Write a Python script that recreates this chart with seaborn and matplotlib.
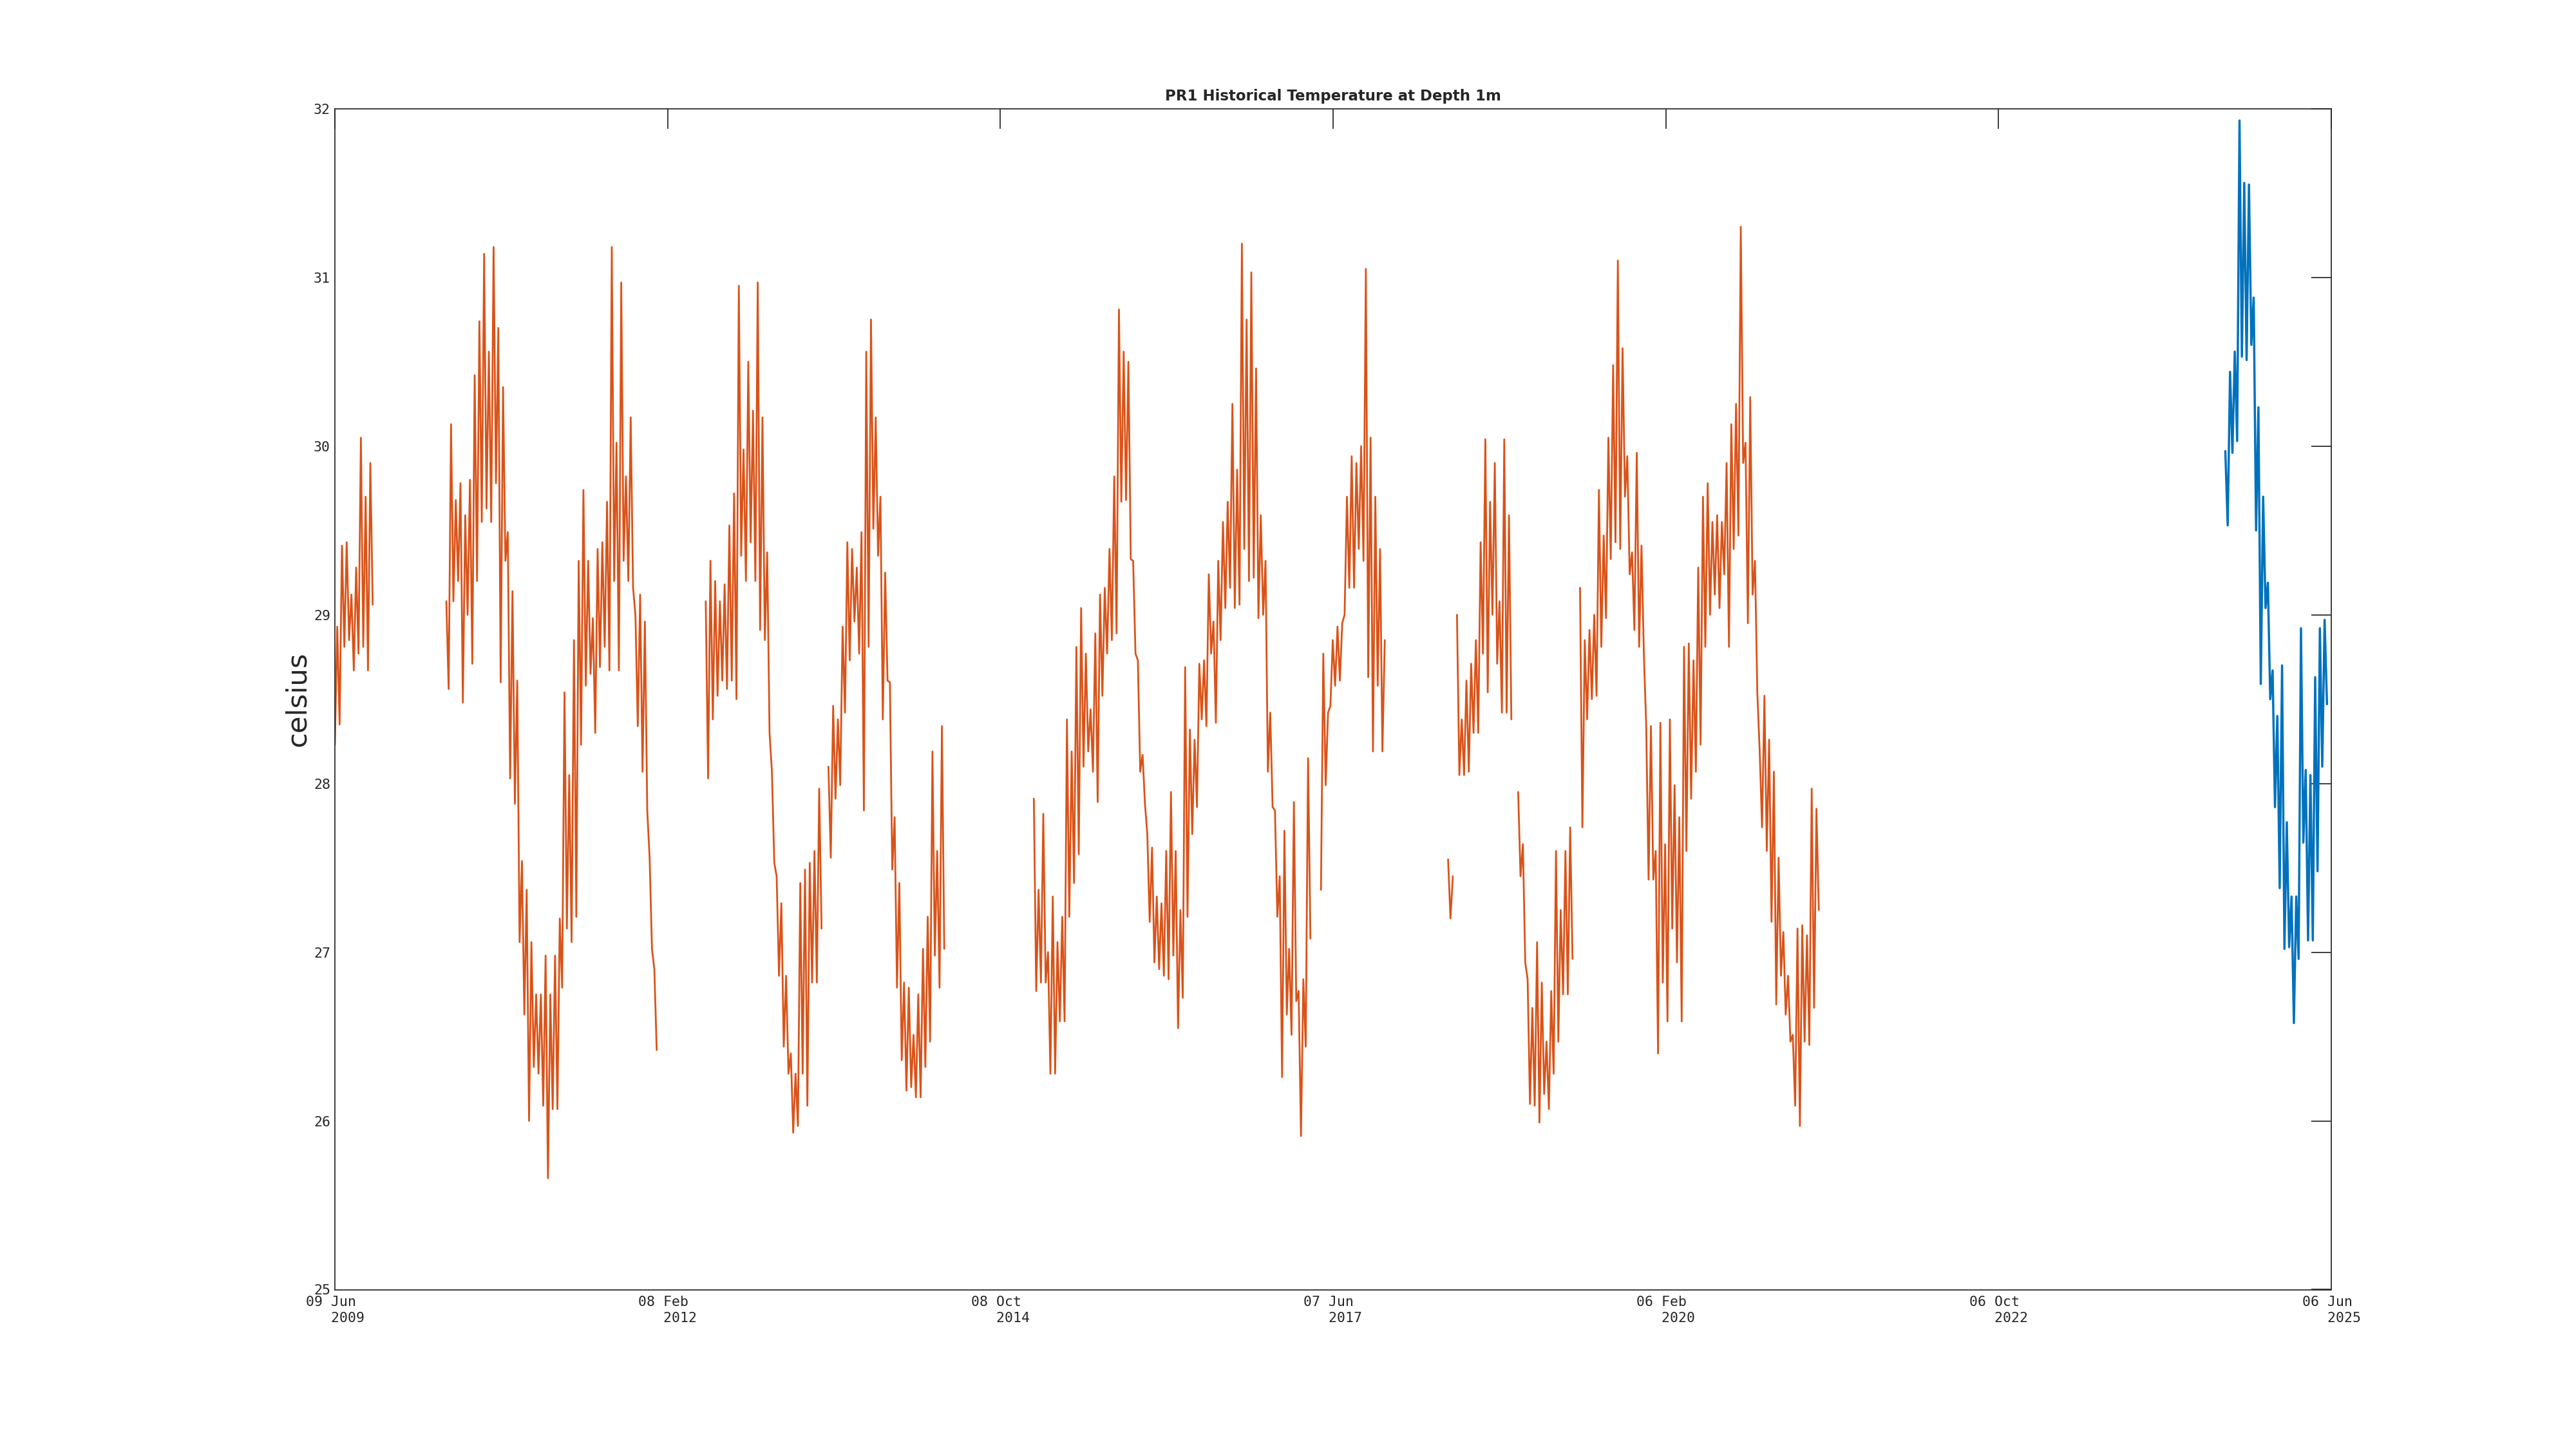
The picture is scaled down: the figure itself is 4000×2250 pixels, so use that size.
import numpy as np
import pandas as pd
import matplotlib
matplotlib.use("Agg")
import matplotlib.pyplot as plt
import seaborn as sns

# colours of the two records (old logger / new logger)
ORANGE = "#D95319"
BLUE = "#0072BD"

# readings, alternating high / low every ~6.9 days, one list per unbroken record
seg1_start = "2009-06-09"
seg1 = [28.23, 28.93, 28.35, 29.41, 28.81, 29.43, 28.85, 29.12, 28.67, 29.28,
        28.77, 30.05, 28.81, 29.70, 28.67, 29.90, 29.06]

seg2_start = "2010-05-01"
seg2 = [29.08, 28.56, 30.13, 29.08, 29.68, 29.20, 29.78, 28.48, 29.59, 29.00,
        29.80, 28.71, 30.42, 29.20, 30.74, 29.55, 31.14, 29.63, 30.56, 29.55,
        31.18, 29.78, 30.70, 28.60, 30.35, 29.32, 29.49, 28.03, 29.14, 27.88,
        28.61, 27.06, 27.54, 26.63, 27.37, 26.00, 27.06, 26.32, 26.75, 26.28,
        26.75, 26.09, 26.98, 25.66, 26.75, 26.07, 26.98, 26.07, 27.20, 26.79,
        28.54, 27.14, 28.05, 27.06, 28.85, 27.21, 29.32, 28.23, 29.74, 28.58,
        29.32, 28.65, 28.98, 28.30, 29.39, 28.69, 29.43, 28.81, 29.67, 28.67,
        31.18, 29.20, 30.02, 28.67, 30.97, 29.32, 29.82, 29.20, 30.17, 29.16,
        29.00, 28.34, 29.12, 28.07, 28.96, 27.84, 27.56, 27.02, 26.90, 26.42]

seg3_start = "2012-05-29"
seg3 = [29.08, 28.03, 29.32, 28.38, 29.20, 28.52, 29.08, 28.61, 29.18, 28.56,
        29.53, 28.61, 29.72, 28.50, 30.95, 29.35, 29.98, 29.20, 30.50, 29.43,
        30.21, 29.20, 30.97, 28.91, 30.17, 28.85, 29.37, 28.30, 28.07, 27.53,
        27.45, 26.86, 27.29, 26.44, 26.86, 26.28, 26.40, 25.93, 26.28, 25.97,
        27.41, 26.28, 27.49, 26.09, 27.53, 26.82, 27.60, 26.82, 27.97, 27.14]

seg4_start = "2013-05-23"
seg4 = [28.10, 27.56, 28.46, 27.91, 28.38, 27.99, 28.93, 28.42, 29.43, 28.73,
        29.39, 28.96, 29.28, 28.77, 29.49, 27.84, 30.56, 28.81, 30.75, 29.51,
        30.17, 29.35, 29.70, 28.38, 29.25, 28.61, 28.60, 27.49, 27.80, 26.79,
        27.41, 26.36, 26.82, 26.18, 26.79, 26.20, 26.51, 26.14, 26.75, 26.14,
        27.02, 26.32, 27.21, 26.47, 28.19, 26.98, 27.60, 26.79, 28.34, 27.02]

seg5_start = "2015-01-14"
seg5 = [27.91, 26.77, 27.37, 26.82, 27.82, 26.82, 27.00, 26.28, 27.33, 26.28,
        27.06, 26.59, 27.21, 26.59, 28.38, 27.21, 28.19, 27.41, 28.81, 27.58,
        29.04, 28.10, 28.77, 28.19, 28.44, 28.07, 28.89, 27.89, 29.12, 28.52,
        29.16, 28.77, 29.39, 28.85, 29.82, 28.89, 30.81, 29.67, 30.56, 29.68,
        30.50, 29.33, 29.32, 28.77, 28.73, 28.07, 28.17, 27.88, 27.70, 27.18,
        27.62, 26.94, 27.33, 26.90, 27.29, 26.86, 27.60, 26.84, 27.95, 26.98,
        27.60, 26.55, 27.25, 26.73, 28.69, 27.21, 28.32, 27.70, 28.26, 27.86,
        28.71, 28.38, 28.73, 28.34, 29.24, 28.77, 28.96, 28.36, 29.32, 28.85,
        29.55, 29.04, 29.67, 29.16, 30.25, 29.04, 29.86, 29.06, 31.20, 29.39,
        30.75, 29.20, 31.03, 29.22, 30.46, 28.98, 29.59, 29.00, 29.32, 28.07,
        28.42, 27.86, 27.84, 27.21, 27.45, 26.26, 27.72, 26.63, 27.02, 26.51,
        27.89, 26.71, 26.77, 25.91, 26.84, 26.44, 28.15, 27.08]

seg6_start = "2017-05-03"
seg6 = [27.37, 28.77, 27.99, 28.42, 28.46, 28.85, 28.58, 28.93, 28.61, 28.95,
        29.00, 29.70, 29.16, 29.94, 29.16, 29.90, 29.39, 30.00, 29.32, 31.05,
        28.63, 30.05, 28.19, 29.70, 28.58, 29.39, 28.19, 28.85]

seg7_start = "2018-05-10"
seg7 = [27.55, 27.20, 27.45]

seg8_start = "2018-06-05"
seg8 = [29.00, 28.05, 28.38, 28.05, 28.61, 28.07, 28.71, 28.30, 28.85, 28.30,
        29.43, 28.77, 30.04, 28.54, 29.67, 29.00, 29.90, 28.71, 29.08, 28.42,
        30.04, 28.42, 29.59, 28.38]

seg9_start = "2018-12-01"
seg9 = [27.95, 27.45, 27.64, 26.94, 26.84, 26.10, 26.67, 26.09, 27.06, 25.99,
        26.82, 26.16, 26.47, 26.07, 26.77, 26.28, 27.60, 26.47, 27.25, 26.75,
        27.60, 26.75, 27.74, 26.96]

seg10_start = "2019-05-31"
seg10 = [29.16, 27.74, 28.85, 28.38, 28.91, 28.50, 29.00, 28.52, 29.74, 28.81,
         29.47, 28.98, 30.05, 29.33, 30.48, 29.43, 31.10, 29.39, 30.58, 29.70,
         29.94, 29.24, 29.37, 28.91, 29.96, 28.81, 29.41, 28.77, 28.34, 27.43,
         28.34, 27.43, 27.60, 26.40, 28.36, 26.82, 27.64, 26.59, 28.38, 27.14,
         27.99, 26.94, 27.80, 26.59, 28.81, 27.60, 28.83, 27.91, 28.73, 28.07,
         29.28, 28.23, 29.70, 28.81, 29.78, 29.00, 29.55, 29.12, 29.59, 29.04,
         29.55, 29.24, 29.90, 28.81, 30.13, 29.39, 30.25, 29.47, 31.30, 29.90,
         30.02, 28.95, 30.29, 29.12, 29.32, 28.54, 28.19, 27.74, 28.52, 27.60,
         28.26, 27.18, 28.07, 26.69, 27.56, 26.86, 27.12, 26.63, 26.86, 26.47,
         26.51, 26.09, 27.14, 25.97, 27.16, 26.47, 27.10, 26.45, 27.97, 26.67,
         27.85, 27.25]

recent_start = "2024-07-31"
recent = [29.97, 29.53, 30.44, 29.96, 30.56, 30.03, 31.93, 30.53, 31.56, 30.51,
          31.55, 30.60, 30.88, 29.50, 30.23, 28.59, 29.70, 29.04, 29.19, 28.50,
          28.67, 27.86, 28.40, 27.38, 28.70, 27.02, 27.77, 27.03, 27.33, 26.58,
          27.33, 26.96, 28.92, 27.65, 28.08, 27.07, 28.05, 27.07, 28.63, 27.48,
          28.92, 28.10, 28.97, 28.47]

tick_dates = ["2009-06-09", "2012-02-08", "2014-10-08", "2017-06-07",
              "2020-02-06", "2022-10-06", "2025-06-06"]
tick_labels = ["09 Jun\n   2009", "08 Feb\n   2012", "08 Oct\n   2014",
               "07 Jun\n   2017", "06 Feb\n   2020", "06 Oct\n   2022",
               "06 Jun\n   2025"]
y_ticks = [25, 26, 27, 28, 29, 30, 31, 32]


def build(segments):
    frames = []
    for i, (start, vals) in enumerate(segments):
        dates = pd.date_range(start, periods=len(vals), freq="166h")
        frames.append(pd.DataFrame({"date": dates, "temp": vals, "seg": i}))
    return pd.concat(frames, ignore_index=True)


old_df = build([(seg1_start, seg1), (seg2_start, seg2), (seg3_start, seg3),
                (seg4_start, seg4), (seg5_start, seg5), (seg6_start, seg6),
                (seg7_start, seg7), (seg8_start, seg8), (seg9_start, seg9),
                (seg10_start, seg10)])
new_df = build([(recent_start, recent)])

sns.set_style("white")
plt.rcParams["font.family"] = ["DejaVu Sans"]

fig = plt.figure(figsize=(16, 9), dpi=250)
ax = fig.add_axes([0.13, 0.11, 0.775, 0.815])

sns.lineplot(data=old_df, x="date", y="temp", units="seg", estimator=None,
             color=ORANGE, linewidth=0.8, ax=ax, legend=False)
sns.lineplot(data=new_df, x="date", y="temp", units="seg", estimator=None,
             color=BLUE, linewidth=1.0, ax=ax, legend=False)

ax.set_xlim(pd.Timestamp(tick_dates[0]), pd.Timestamp(tick_dates[-1]))
ax.set_ylim(25, 32)
ax.set_xticks(pd.to_datetime(tick_dates))
ax.set_xticklabels(tick_labels, multialignment="left", linespacing=1.3)
ax.set_yticks(y_ticks)
ax.set_yticklabels([str(v) for v in y_ticks])

ax.tick_params(axis="both", direction="in", length=9, width=0.5,
               color="#262626", top=True, right=True, labelsize=6.2)
ax.tick_params(axis="x", pad=2.8)
ax.tick_params(axis="y", pad=2.0)
for lbl in ax.get_xticklabels() + ax.get_yticklabels():
    lbl.set_fontfamily("DejaVu Sans Mono")
    lbl.set_color("#262626")

for s in ax.spines.values():
    s.set_linewidth(0.5)
    s.set_color("#262626")

ax.set_xlabel("")
ax.set_ylabel("celsius", fontsize=12.5, color="#262626")
ax.yaxis.set_label_coords(-0.012, 0.5)
ax.set_title("PR1 Historical Temperature at Depth 1m", fontsize=6.6,
             fontweight="bold", pad=3.8)

fig.savefig("out.png", dpi=250)
